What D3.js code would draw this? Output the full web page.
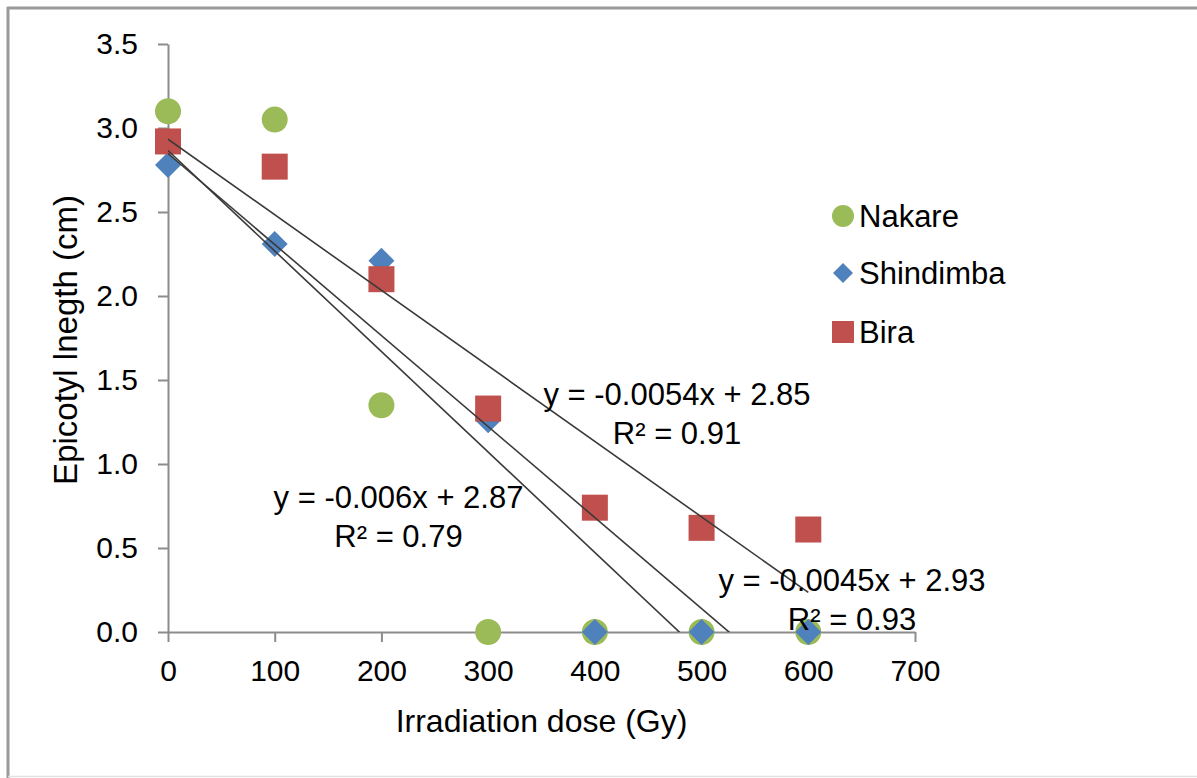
<!DOCTYPE html>
<html>
<head>
<meta charset="utf-8">
<script src="https://cdn.jsdelivr.net/npm/d3@7"></script>
<style>
  html, body { margin: 0; padding: 0; background: #fff; overflow: hidden; }
  svg { display: block; }
  text { font-family: "Liberation Sans", Arial, sans-serif; fill: #000; }
</style>
</head>
<body>
<svg id="chart" width="1197" height="778"></svg>
<script>
// ---- data ----
const doses = [0, 100, 200, 300, 400, 500, 600];
const seriesNames = ["Nakare", "Shindimba", "Bira"];
const nakare = [3.10, 3.05, 1.35, 0, 0, 0, 0];
const shindimba = [2.78, 2.31, 2.21, 1.26, 0, 0, 0];
const bira = [2.92, 2.77, 2.10, 1.33, 0.74, 0.62, 0.61];
const eqLabels = ["y = -0.006x + 2.87", "y = -0.0054x + 2.85", "y = -0.0045x + 2.93"];
const r2Labels = ["R² = 0.79", "R² = 0.91", "R² = 0.93"];
const xTicks = [0, 100, 200, 300, 400, 500, 600, 700];
const yTicks = [0, 0.5, 1.0, 1.5, 2.0, 2.5, 3.0, 3.5];

// ---- styling / layout ----
const colors = ["#9BBB59", "#4F81BD", "#C0504D"];
const shapes = ["circle", "diamond", "square"];
const labelAnchors = [[216, 0.738], [477, 1.351], [641, 0.244]]; // data-space anchor for equation labels

const svg = d3.select("#chart");
const x = d3.scaleLinear().domain([0, 700]).range([168, 915]);
const y = d3.scaleLinear().domain([0, 3.5]).range([632, 44]);

// outer frame (top, left, faint bottom; right edge is cut off)
svg.append("line").attr("x1", 7).attr("x2", 1197).attr("y1", 8).attr("y2", 8)
  .attr("stroke", "#9a9a9a").attr("stroke-width", 3);
svg.append("line").attr("x1", 8).attr("x2", 8).attr("y1", 7).attr("y2", 778)
  .attr("stroke", "#9a9a9a").attr("stroke-width", 3);
svg.append("line").attr("x1", 8).attr("x2", 1197).attr("y1", 776.5).attr("y2", 776.5)
  .attr("stroke", "#e2e2e2").attr("stroke-width", 1.5);

// axes
const axisColor = "#8c8c8c";
const yAxis = svg.append("g").attr("transform", `translate(${x(0)},0)`)
  .call(d3.axisLeft(y).tickValues(yTicks).tickFormat(d3.format(".1f")).tickSize(10).tickSizeOuter(0).tickPadding(20));
const xAxis = svg.append("g").attr("transform", `translate(0,${y(0)})`)
  .call(d3.axisBottom(x).tickValues(xTicks).tickFormat(d3.format("d")).tickSize(10).tickSizeOuter(0).tickPadding(18));
[yAxis, xAxis].forEach(g => {
  g.selectAll("path, line").attr("stroke", axisColor).attr("stroke-width", 2);
  g.selectAll("text").attr("font-size", 30).attr("font-family", "Liberation Sans, Arial, sans-serif").attr("fill", "#000");
});

// axis titles
svg.append("text").attr("x", (x(0) + x(700)) / 2).attr("y", 732).attr("text-anchor", "middle")
  .attr("font-size", 32).text("Irradiation dose (Gy)");
svg.append("text").attr("transform", `translate(77,${(y(0) + y(3.5)) / 2 + 2}) rotate(-90)`)
  .attr("text-anchor", "middle").attr("font-size", 33).text("Epicotyl lnegth (cm)");

// markers
const allSeries = [nakare, shindimba, bira];
function drawMarker(g, shape, cx, cy, s, color) {
  if (shape === "circle") {
    g.append("circle").attr("cx", cx).attr("cy", cy).attr("r", s).attr("fill", color);
  } else if (shape === "diamond") {
    g.append("path").attr("d", `M${cx},${cy - s}L${cx + s},${cy}L${cx},${cy + s}L${cx - s},${cy}Z`).attr("fill", color);
  } else {
    g.append("rect").attr("x", cx - s).attr("y", cy - s).attr("width", 2 * s).attr("height", 2 * s).attr("fill", color);
  }
}
const markG = svg.append("g");
allSeries.forEach((vals, i) => {
  vals.forEach((v, j) => drawMarker(markG, shapes[i], x(doses[j]), y(v), 13, colors[i]));
});

// trendlines (least squares), clipped to plot area
svg.append("clipPath").attr("id", "plotclip").append("rect")
  .attr("x", x(0)).attr("y", y(3.5)).attr("width", x(700) - x(0)).attr("height", y(0) - y(3.5));
const lineG = svg.append("g").attr("clip-path", "url(#plotclip)");
allSeries.forEach((vals) => {
  const mx = d3.mean(doses), my = d3.mean(vals);
  const sxy = d3.sum(doses, (d, k) => (d - mx) * (vals[k] - my));
  const sxx = d3.sum(doses, d => (d - mx) * (d - mx));
  const m = sxy / sxx, b = my - m * mx;
  const x0 = d3.min(doses), x1 = d3.max(doses);
  lineG.append("line").attr("x1", x(x0)).attr("y1", y(m * x0 + b)).attr("x2", x(x1)).attr("y2", y(m * x1 + b))
    .attr("stroke", "#3a3a3a").attr("stroke-width", 1.6);
});

// equation labels
eqLabels.forEach((t, i) => {
  const [ax, ay] = labelAnchors[i];
  const g = svg.append("text").attr("text-anchor", "middle").attr("font-size", 31);
  g.append("tspan").attr("x", x(ax)).attr("y", y(ay)).text(t);
  g.append("tspan").attr("x", x(ax)).attr("dy", 39).text(r2Labels[i]);
});

// legend
const legendY = [216, 273, 332];
const legendSizes = [11, 10, 11];
seriesNames.forEach((name, i) => {
  drawMarker(svg, shapes[i], 843, legendY[i], legendSizes[i], colors[i]);
  svg.append("text").attr("x", 859).attr("y", legendY[i]).attr("dy", "0.36em")
    .attr("font-size", 31).text(name);
});
</script>
</body>
</html>
